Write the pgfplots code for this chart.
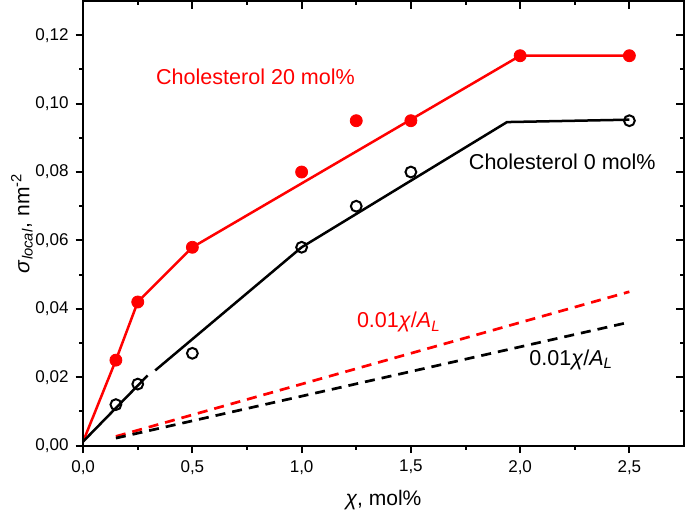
\documentclass[border=0pt]{standalone}
\usepackage{fontspec}
\setmainfont{Liberation Sans}
\usepackage{pgfplots}
\pgfplotsset{compat=1.18}

\pgfplotsset{
  base/.style={
    scale only axis,
    width=300pt, height=222pt,
    xmin=0, xmax=2.75, ymin=0, ymax=0.13,
    xtick={0,0.5,...,2.5},
    ytick={0,0.02,...,0.121},
    minor x tick num=1, minor y tick num=1,
    scaled y ticks=false,
    axis line style={line width=1pt},
    every tick/.style={black, line width=1pt},
    major tick length=3.75pt, minor tick length=2pt,
  }
}

\begin{document}
\begin{tikzpicture}
\begin{axis}[base,
    tick align=outside,
    xtick pos=bottom, ytick pos=left,
    /pgf/number format/assume math mode=true,
    tick label style={font=\fontsize{8.5}{10}\selectfont},
    xticklabel style={/pgf/number format/.cd, fixed, fixed zerofill, precision=1, use comma},
    yticklabel style={/pgf/number format/.cd, fixed, fixed zerofill, precision=2, use comma},
    xlabel={\textit{χ}, mol\%},
    ylabel={\textit{σ}\textsubscript{\textit{local}}, nm\textsuperscript{-2}},
    xlabel style={font=\fontsize{10.5}{12}\selectfont, at={(axis description cs:0.5,-0.122)}, anchor=center},
    ylabel style={font=\fontsize{10.5}{12}\selectfont, at={(axis description cs:-0.1017,0.5)}, anchor=center},
]
% red: cholesterol 20 mol%
\addplot[red, line width=1.25pt] coordinates {(0,0.0012) (0.15,0.025) (0.25,0.042) (0.5,0.058) (2.0,0.114) (2.5,0.114)};
\addplot[red, only marks, mark=*, mark size=3pt] coordinates {(0.15,0.025) (0.25,0.042) (0.5,0.058) (1.0,0.080) (1.25,0.095) (1.5,0.095) (2.0,0.114) (2.5,0.114)};
% black: cholesterol 0 mol%
\addplot[black, line width=1.25pt] coordinates {(0,0.0012) (0.295,0.0205)};
\addplot[black, line width=1.25pt] coordinates {(0.33,0.022) (1.0,0.058) (1.94,0.0946) (2.5,0.0953)};
\addplot[black, only marks, mark=o, mark size=2.7pt, mark options={line width=1pt}] coordinates {(0.15,0.012) (0.25,0.018) (0.5,0.027) (1.0,0.058) (1.25,0.070) (1.5,0.080) (2.5,0.095)};
% dashed 0.01 chi / A_L
\addplot[red, line width=1.35pt, dash pattern=on 5pt off 3.5pt] coordinates {(0.15,0.0027) (2.5,0.045)};
\addplot[black, line width=1.35pt, dash pattern=on 5pt off 3.5pt] coordinates {(0.15,0.0022) (2.5,0.0361)};

\node[red, font=\fontsize{10.75}{12}\selectfont] at (axis cs:0.789,0.1077) {Cholesterol 20 mol\%};
\node[black, font=\fontsize{10.75}{12}\selectfont] at (axis cs:2.193,0.083) {Cholesterol 0 mol\%};
\node[red, font=\fontsize{10.75}{12}\selectfont] at (axis cs:1.445,0.0361) {0.01\textit{χ}/\textit{A}\textsubscript{\textit{L}}};
\node[black, font=\fontsize{10.75}{12}\selectfont] at (axis cs:2.234,0.0252) {0.01\textit{χ}/\textit{A}\textsubscript{\textit{L}}};
\end{axis}
\begin{axis}[base,
    tick align=inside,
    xtick pos=top, ytick pos=right,
    xticklabels={}, yticklabels={},
]
\end{axis}
\pgfresetboundingbox
\path[use as bounding box] (-41.5pt,-34pt) rectangle (300.5pt,222.5pt);
\end{tikzpicture}
\end{document}
